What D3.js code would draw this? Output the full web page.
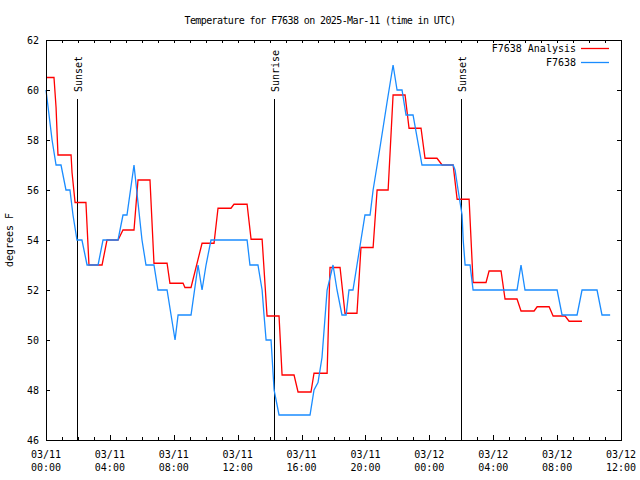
<!DOCTYPE html>
<html><head><meta charset="utf-8">
<script src="https://cdn.jsdelivr.net/npm/d3@7"></script>
<style>
body{margin:0;background:#fff;}
svg{display:block;}
text{font-family:"DejaVu Sans Mono",monospace;font-size:10px;fill:#000;}
</style></head>
<body>
<svg id="chart" width="640" height="480"></svg>
<script>
// ---- data (hours since 03/11 00:00 UTC) ----
const stationName = "F7638";
const titleText = "Temperature for F7638 on 2025-Mar-11 (time in UTC)";
const yLabel = "degrees F";
const yTicks = [46,48,50,52,54,56,58,60,62];
const xTickHours = [0,4,8,12,16,20,24,28,32,36];
const xTickLabels = [["03/11","00:00"],["03/11","04:00"],["03/11","08:00"],["03/11","12:00"],["03/11","16:00"],["03/11","20:00"],["03/12","00:00"],["03/12","04:00"],["03/12","08:00"],["03/12","12:00"]];
const events = [{h:1.94,label:"Sunset"},{h:14.28,label:"Sunrise"},{h:25.99,label:"Sunset"}];

const obsHours = [0.00,0.19,0.38,0.63,0.94,1.25,1.50,1.69,1.94,2.25,2.57,3.26,3.57,4.51,4.82,5.07,5.51,5.76,6.01,6.26,6.76,7.01,7.58,7.83,8.08,8.27,9.08,9.52,9.77,10.02,10.33,12.59,12.77,13.27,13.53,13.65,13.78,14.09,14.28,14.59,16.53,16.78,17.03,17.28,17.60,17.97,18.22,18.53,18.79,18.97,19.22,19.47,19.72,19.97,20.29,20.48,20.91,21.35,21.73,21.98,22.29,22.54,22.98,23.54,25.49,25.61,25.80,26.05,26.12,26.24,26.55,26.74,29.49,29.74,29.99,32.00,32.31,33.25,33.56,34.50,34.81,35.32];
const obsTemps = [60,59,58,57,57,56,56,55,54,54,53,53,54,54,55,55,57,55.5,54,53,53,52,52,51,50,51,51,53,52,53,54,54,53,53,52,51,50,50,48,47,47,48,48.3,49.3,52,53,52,51,51,52,52,53,54,55,55,56,57.7,59.5,61,60,60,59,59,57,57,56.8,56,55,54,53,53,52,52,53,52,52,51,51,52,52,51,51];

const anaHours = [0.00,0.50,0.63,0.75,1.57,1.63,1.82,2.50,2.69,3.51,3.82,4.51,4.82,5.51,5.76,6.51,6.76,7.58,7.76,8.58,8.70,9.08,9.77,10.52,10.77,11.58,11.77,12.59,12.84,13.53,13.84,14.59,14.78,15.53,15.78,16.59,16.78,17.60,17.78,18.41,18.72,19.47,19.72,20.48,20.73,21.42,21.73,22.48,22.73,23.48,23.73,24.48,24.80,25.49,25.74,26.49,26.74,27.55,27.74,28.49,28.74,29.49,29.74,30.56,30.75,31.50,31.75,32.50,32.75,33.56];
const anaTemps = [60.5,60.5,59.3,57.4,57.4,56.7,55.5,55.5,53,53,54,54,54.4,54.4,56.4,56.4,53.07,53.07,52.27,52.27,52.1,52.1,53.87,53.87,55.27,55.27,55.43,55.43,54.03,54.03,50.96,50.96,48.6,48.6,47.92,47.92,48.67,48.67,52.9,52.9,51.07,51.07,53.7,53.7,56.0,56.0,59.8,59.8,58.47,58.47,57.27,57.27,57.0,57.0,55.63,55.63,52.3,52.3,52.76,52.76,51.64,51.64,51.16,51.16,51.33,51.33,50.96,50.96,50.75,50.75];

const seriesNames = ["F7638 Analysis","F7638"];
const seriesColors = ["#ff0000","#1a8cff"];

// ---- drawing ----
const svg = d3.select("#chart");
const L=46, R=621, T=40, B=440;
const x = d3.scaleLinear().domain([0,36]).range([L,R]);
const y = d3.scaleLinear().domain([46,62]).range([B,T]);
const hourly = d3.range(0,37);

svg.append("text").attr("x",320).attr("y",24).attr("text-anchor","middle")
  .style("letter-spacing","-0.6px").text(titleText);

// axes
const gB = svg.append("g").attr("transform",`translate(0,${B})`)
  .call(d3.axisBottom(x).tickValues(hourly).tickSize(-3).tickFormat(""));
const gB2 = svg.append("g").attr("transform",`translate(0,${B})`)
  .call(d3.axisBottom(x).tickValues(xTickHours).tickSize(-5).tickPadding(13).tickFormat(""));
const gT = svg.append("g").attr("transform",`translate(0,${T})`)
  .call(d3.axisTop(x).tickValues(hourly).tickSize(-3).tickFormat(""));
const gL = svg.append("g").attr("transform",`translate(${L},0)`)
  .call(d3.axisLeft(y).tickValues(yTicks).tickSize(-4).tickPadding(7).tickFormat(d3.format("d")));
const gR = svg.append("g").attr("transform",`translate(${R},0)`)
  .call(d3.axisRight(y).tickValues(yTicks).tickSize(-4).tickFormat(""));
[gB,gB2,gT,gL,gR].forEach(g=>{g.select(".domain").remove();g.selectAll("line").attr("stroke","#000").attr("shape-rendering","crispEdges");});
gL.selectAll("text").style("font-family","DejaVu Sans Mono").style("font-size","10px");

// two-line x labels
xTickHours.forEach((h,i)=>{
  const t = svg.append("text").attr("x",x(h)).attr("text-anchor","middle");
  t.append("tspan").attr("x",x(h)).attr("y",458).text(xTickLabels[i][0]);
  t.append("tspan").attr("x",x(h)).attr("y",471).text(xTickLabels[i][1]);
});

svg.append("text").attr("transform",`translate(13,${(T+B)/2}) rotate(-90)`)
  .attr("text-anchor","middle").text(yLabel);

// events
events.forEach(e=>{
  const ex = Math.round(x(e.h)) + 0.5;
  svg.append("line").attr("x1",ex).attr("x2",ex).attr("y1",99).attr("y2",B)
    .attr("stroke","#000").attr("stroke-width",1);
  svg.append("text").attr("transform",`translate(${ex+4.5},92) rotate(-90)`)
    .attr("text-anchor","start").text(e.label);
});

// series
const line = d3.line().x(d=>x(d[0])).y(d=>y(d[1]));
const ana = anaHours.map((h,i)=>[h,anaTemps[i]]);
const obs = obsHours.map((h,i)=>[h,obsTemps[i]]);
svg.append("path").datum(ana).attr("d",line).attr("fill","none")
  .attr("stroke",seriesColors[0]).attr("stroke-width",1.3);
svg.append("path").datum(obs).attr("d",line).attr("fill","none")
  .attr("stroke",seriesColors[1]).attr("stroke-width",1.3);

// border
svg.append("rect").attr("x",L+0.5).attr("y",T+0.5).attr("width",R-L).attr("height",B-T)
  .attr("fill","none").attr("stroke","#000");

// legend
seriesNames.forEach((n,i)=>{
  const ly = 48.5 + i*14;
  svg.append("text").attr("x",576).attr("y",ly+3.5).attr("text-anchor","end").text(n);
  svg.append("line").attr("x1",581).attr("x2",609).attr("y1",ly).attr("y2",ly)
    .attr("stroke",seriesColors[i]).attr("stroke-width",1.3);
});
</script>
</body></html>
